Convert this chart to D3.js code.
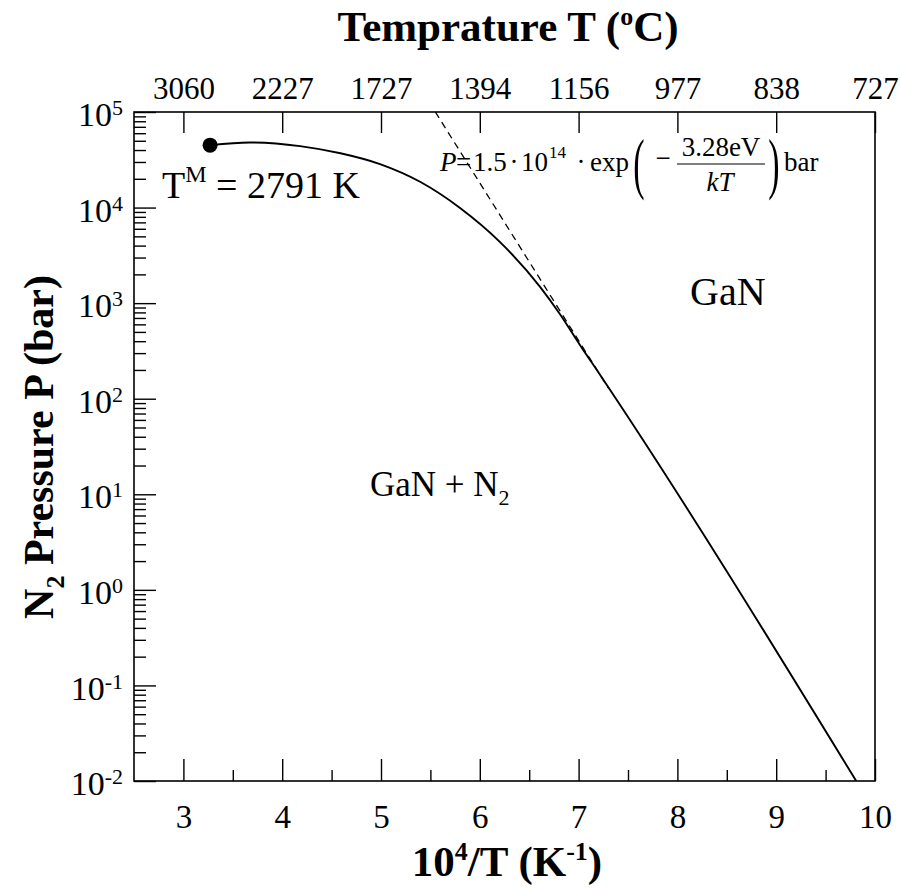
<!DOCTYPE html>
<html>
<head>
<meta charset="utf-8">
<script src="https://cdn.jsdelivr.net/npm/d3@7"></script>
<style>
  body { margin: 0; background: #fff; }
  svg text { font-family: "Liberation Serif", "Times New Roman", serif; fill: #000; }
</style>
</head>
<body>
<div id="wrapper"></div>
<script>
// values
const invT = [3.27, 3.67, 4.18, 4.59, 4.99, 5.40, 5.80, 6.20, 6.61, 6.81, 7.01, 7.22, 9.81]   // 10^4/T (K^-1)
const pressure = [4.5e4, 4.8e4, 4.4e4, 3.7e4, 2.85e4, 1.85e4, 9.9e3, 4.4e3, 1.48e3, 7.7e2, 3.7e2, 1.76e2, 1.0e-2]   // bar
const fitX = [5.55, 7.3]
const fitP = [1.0e5, 1.3e2]
const meltX = [3.27]
const meltP = [4.5e4]
const xTicks = [3, 4, 5, 6, 7, 8, 9, 10]
const xMinor = [3.5, 4.5, 5.5, 6.5, 7.5, 8.5, 9.5]
const topLabels = ["3060", "2227", "1727", "1394", "1156", "977", "838", "727"]
const yExp = [-2, -1, 0, 1, 2, 3, 4, 5]

const serif = "'Liberation Serif', 'Times New Roman', serif"

// dimensions
let dimensions = {
  width: 901,
  height: 890,
  margin: { top: 112, right: 26, bottom: 109, left: 134 },
}
dimensions.boundedWidth = dimensions.width - dimensions.margin.left - dimensions.margin.right
dimensions.boundedHeight = dimensions.height - dimensions.margin.top - dimensions.margin.bottom

const svg = d3.select("#wrapper").append("svg")
  .attr("width", dimensions.width)
  .attr("height", dimensions.height)
  .style("font-family", serif)
svg.append("rect").attr("width", dimensions.width).attr("height", dimensions.height).attr("fill", "#fff")

const bounds = svg.append("g")
  .attr("transform", `translate(${dimensions.margin.left},${dimensions.margin.top})`)

// scales
const xScale = d3.scaleLinear().domain([2.5, 10]).range([0, dimensions.boundedWidth])
const yScale = d3.scaleLog().domain([1e-2, 1e5]).range([dimensions.boundedHeight, 0])

bounds.append("clipPath").attr("id", "clip")
  .append("rect").attr("width", dimensions.boundedWidth).attr("height", dimensions.boundedHeight)

// axes
const axisStyle = size => g => {
  g.attr("font-family", null)
  g.select(".domain").remove()
  g.selectAll(".tick line").attr("stroke", "#000").attr("stroke-width", 1.4)
  g.selectAll("text").style("font-family", serif).style("font-size", size + "px")
}

bounds.append("g")
  .attr("transform", `translate(0,${dimensions.boundedHeight})`)
  .call(d3.axisBottom(xScale).tickValues(xTicks).tickSize(-22).tickPadding(24).tickFormat(d3.format("d")))
  .call(axisStyle(33))
bounds.append("g")
  .attr("transform", `translate(0,${dimensions.boundedHeight})`)
  .call(d3.axisBottom(xScale).tickValues(xMinor).tickSize(-11).tickFormat(""))
  .call(axisStyle(33))

bounds.append("g")
  .call(d3.axisTop(xScale).tickValues(xTicks).tickSize(-21).tickPadding(13).tickFormat((d, i) => topLabels[i]))
  .call(axisStyle(31))

const minorY = []
yExp.slice(0, -1).forEach(e => { for (let k = 2; k < 10; k++) minorY.push(k * Math.pow(10, e)) })

bounds.append("g")
  .call(d3.axisLeft(yScale).tickValues(minorY).tickSize(-12).tickFormat(""))
  .call(axisStyle(33))
const yAxis = bounds.append("g")
  .call(d3.axisLeft(yScale).tickValues(yExp.map(e => Math.pow(10, e))).tickSize(-22).tickPadding(11).tickFormat(""))
  .call(axisStyle(34))
yAxis.selectAll(".tick text").each(function (d, i) {
  const t = d3.select(this).attr("dy", "0.4em")
  t.append("tspan").text("10")
  t.append("tspan").attr("dy", "-0.5em").style("font-size", "22px").text(yExp[i])
})

// frame
bounds.append("rect")
  .attr("width", dimensions.boundedWidth)
  .attr("height", dimensions.boundedHeight)
  .attr("fill", "none")
  .attr("stroke", "#000")
  .attr("stroke-width", 1.6)

// lines
const plot = bounds.append("g").attr("clip-path", "url(#clip)")
const lineGenerator = d3.line()
  .x(i => xScale(invT[i]))
  .y(i => yScale(pressure[i]))
  .curve(d3.curveMonotoneX)
plot.append("path")
  .attr("d", lineGenerator(d3.range(invT.length)))
  .attr("fill", "none")
  .attr("stroke", "#000")
  .attr("stroke-width", 1.9)

const fitLine = d3.line().x(i => xScale(fitX[i])).y(i => yScale(fitP[i]))
plot.append("path")
  .attr("d", fitLine(d3.range(fitX.length)))
  .attr("fill", "none")
  .attr("stroke", "#000")
  .attr("stroke-width", 1.3)
  .attr("stroke-dasharray", "7,5")

bounds.selectAll(".melt").data(meltX).join("circle")
  .attr("cx", d => xScale(d))
  .attr("cy", (d, i) => yScale(meltP[i]))
  .attr("r", 7.5)
  .attr("fill", "#000")

// annotations
const tm = svg.append("text").attr("x", 162).attr("y", 198).style("font-size", "38px")
tm.append("tspan").text("T")
tm.append("tspan").attr("dy", -16).style("font-size", "24px").text("M")
tm.append("tspan").attr("dy", 16).text(" = 2791 K")

svg.append("text").attr("x", 690).attr("y", 305).style("font-size", "40px").text("GaN")
const gn = svg.append("text").attr("x", 370).attr("y", 496).style("font-size", "35px")
gn.append("tspan").text("GaN + N")
gn.append("tspan").attr("dy", 9).style("font-size", "22px").text("2")

// formula
const f = svg.append("g").style("font-size", "27px")
f.append("text").attr("x", 440).attr("y", 171).style("font-style", "italic").text("P")
f.append("text").attr("x", 456).attr("y", 171).text("=")
f.append("text").attr("x", 473).attr("y", 171).text("1.5")
f.append("text").attr("x", 514).attr("y", 171).attr("text-anchor", "middle").text("·")
f.append("text").attr("x", 521).attr("y", 171).text("10")
f.append("text").attr("x", 549).attr("y", 158).style("font-size", "17px").text("14")
f.append("text").attr("x", 581).attr("y", 171).attr("text-anchor", "middle").text("·")
f.append("text").attr("x", 590).attr("y", 171).text("exp")
f.append("text").attr("x", 639).attr("y", 186).style("font-size", "68px")
  .attr("transform", "translate(639,186) scale(0.5,1) translate(-639,-186)")
  .attr("text-anchor", "middle").text("(")
f.append("text").attr("x", 663).attr("y", 167).attr("text-anchor", "middle").text("−")
f.append("text").attr("x", 721).attr("y", 156).attr("text-anchor", "middle").text("3.28eV")
f.append("line").attr("x1", 677).attr("x2", 765).attr("y1", 164).attr("y2", 164).attr("stroke", "#000").attr("stroke-width", 1.2)
f.append("text").attr("x", 720).attr("y", 191).attr("text-anchor", "middle").style("font-style", "italic").text("kT")
f.append("text").attr("x", 774).attr("y", 186).style("font-size", "68px")
  .attr("transform", "translate(774,186) scale(0.5,1) translate(-774,-186)")
  .attr("text-anchor", "middle").text(")")
f.append("text").attr("x", 784).attr("y", 171).text("bar")

// axis titles
const tt = svg.append("text").attr("x", 508).attr("y", 41).attr("text-anchor", "middle")
  .style("font-size", "43px").style("font-weight", "bold")
tt.append("tspan").text("Temprature T (")
tt.append("tspan").attr("dy", -16).style("font-size", "26px").text("o")
tt.append("tspan").attr("dy", 16).text("C)")

const bt = svg.append("text").attr("x", 507).attr("y", 876).attr("text-anchor", "middle")
  .style("font-size", "43px").style("font-weight", "bold")
bt.append("tspan").text("10")
bt.append("tspan").attr("dy", -16).style("font-size", "26px").text("4")
bt.append("tspan").attr("dy", 16).text("/T (K")
bt.append("tspan").attr("dy", -16).style("font-size", "26px").text("-1")
bt.append("tspan").attr("dy", 16).text(")")

const lt = svg.append("text")
  .attr("transform", "translate(53,447) rotate(-90)")
  .attr("text-anchor", "middle")
  .style("font-size", "42px").style("font-weight", "bold")
lt.append("tspan").text("N")
lt.append("tspan").attr("dy", 11).style("font-size", "26px").text("2")
lt.append("tspan").attr("dy", -11).text(" Pressure P (bar)")
</script>
</body>
</html>
